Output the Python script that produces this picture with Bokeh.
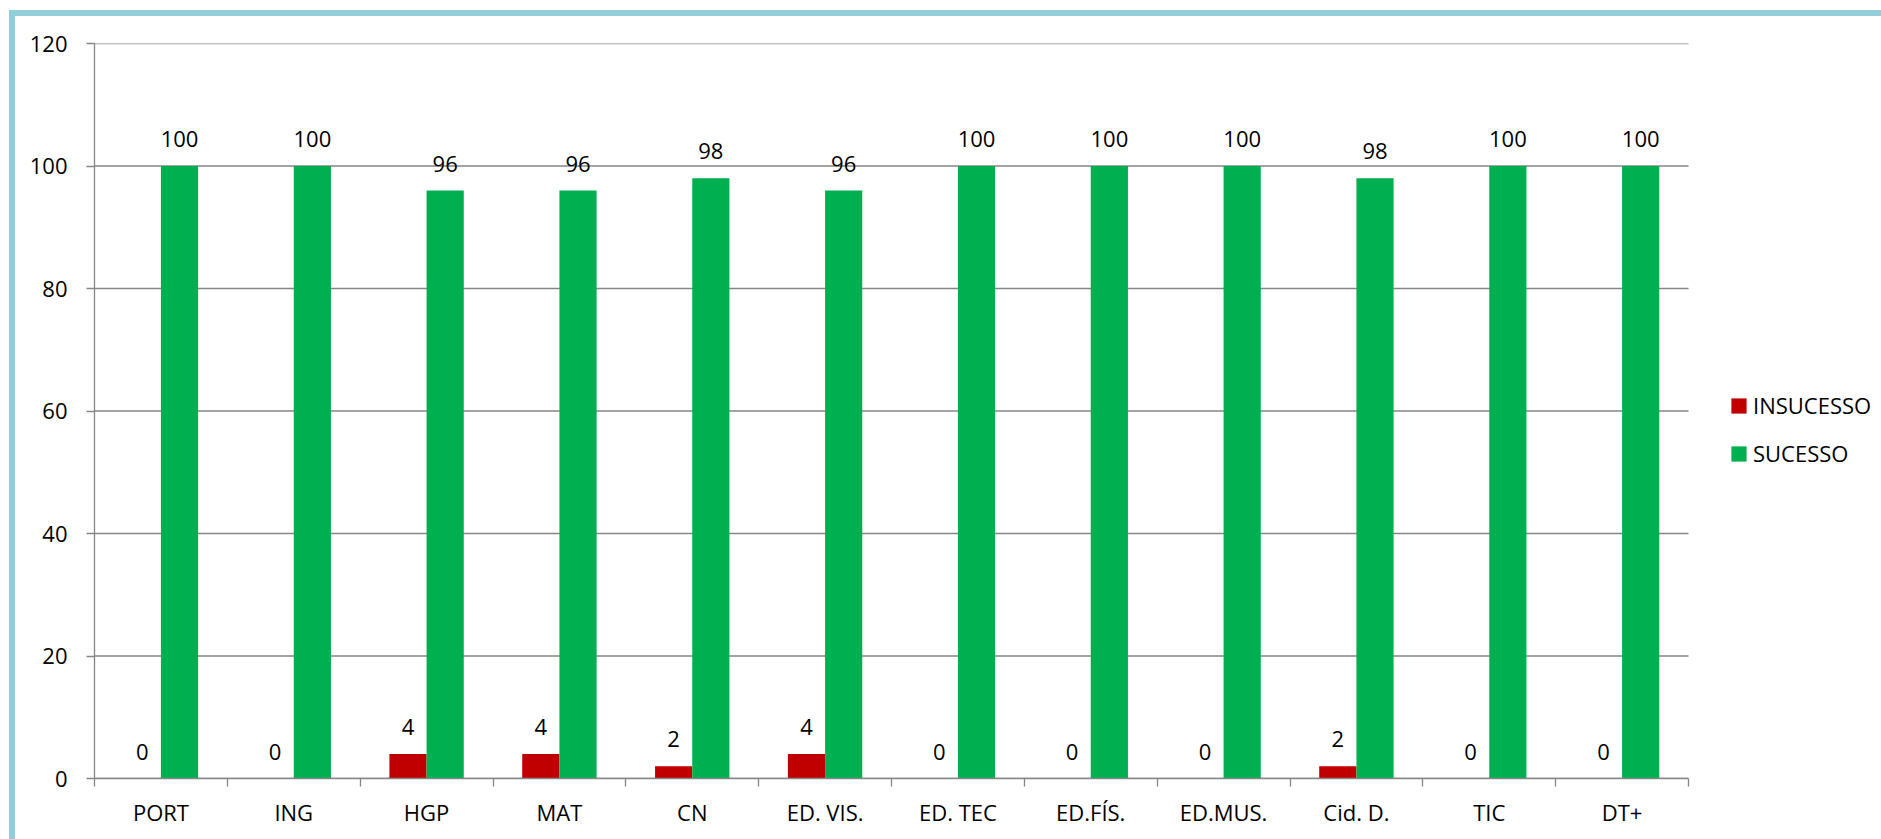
from bokeh.plotting import figure
from bokeh.models import (ColumnDataSource, Range1d, FixedTicker, Legend, LegendItem,
                          InlineStyleSheet)
from bokeh.transform import dodge
from bokeh.core.properties import value
from bokeh.embed import file_html
from bokeh.resources import INLINE

categories = ["PORT", "ING", "HGP", "MAT", "CN", "ED. VIS.", "ED. TEC", "ED.FÍS.",
              "ED.MUS.", "Cid. D.", "TIC", "DT+"]
insucesso = [0, 0, 4, 4, 2, 4, 0, 0, 0, 2, 0, 0]
sucesso = [100, 100, 96, 96, 98, 96, 100, 100, 100, 98, 100, 100]
y_ticks = [0, 20, 40, 60, 80, 100, 120]
series_names = ["INSUCESSO", "SUCESSO"]

RED = "#C00000"
GREEN = "#00B050"
GRID = "#868686"
BORDER = "#92CDDC"
FONT = "Open Sans"
FS = "22px"

W, H = 1881, 839
PLOT_L, PLOT_R, PLOT_T, PLOT_B = 94, 1688, 43, 778

n = len(categories)
pos = [i + 0.5 for i in range(n)]
src = ColumnDataSource(dict(
    x=pos, cat=categories, ins=insucesso, suc=sucesso,
    ins_txt=[str(v) for v in insucesso], suc_txt=[str(v) for v in sucesso],
))

# frame extends to the right edge so the legend can live inside it;
# the category area occupies PLOT_L..PLOT_R
x_end = n * (W - PLOT_L) / (PLOT_R - PLOT_L)
p = figure(width=W, height=H,
           x_range=Range1d(0, x_end), y_range=Range1d(0, 120),
           output_backend="svg", toolbar_location=None,
           min_border_left=PLOT_L, min_border_right=0,
           min_border_top=PLOT_T, min_border_bottom=H - PLOT_B)
p.outline_line_color = None
p.background_fill_color = "white"
p.border_fill_color = "white"

# horizontal gridlines limited to the category area
p.xgrid.visible = False
p.ygrid.visible = False
p.segment(x0=[0] * len(y_ticks), x1=[n] * len(y_ticks), y0=y_ticks, y1=y_ticks,
          line_color=GRID, line_width=1.3)

BW = 0.28
r_ins = p.vbar(x=dodge("x", -BW / 2), top="ins", bottom=0, width=BW,
               fill_color=RED, line_color=None, source=src)
r_suc = p.vbar(x=dodge("x", BW / 2), top="suc", bottom=0, width=BW,
               fill_color=GREEN, line_color=None, source=src)

for col, txt, off in (("ins", "ins_txt", -BW / 2), ("suc", "suc_txt", BW / 2)):
    p.text(x=dodge("x", off), y=col, text=txt, source=src,
           text_align="center", text_baseline="middle", y_offset=-27,
           text_font=value(FONT), text_font_size=FS, text_color="black")

# x axis
xa = p.xaxis[0]
xa.bounds = (0, n)
xa.ticker = FixedTicker(ticks=pos, minor_ticks=list(range(n + 1)))
xa.major_label_overrides = {pp: c for pp, c in zip(pos, categories)}
xa.major_tick_line_color = None
xa.major_tick_out = 0
xa.major_tick_in = 0
xa.minor_tick_out = 8
xa.minor_tick_in = 0
xa.minor_tick_line_color = GRID
xa.minor_tick_line_width = 1.3
xa.axis_line_color = GRID
xa.axis_line_width = 1.3
xa.major_label_standoff = 10
xa.major_label_text_font = FONT
xa.major_label_text_font_size = FS
xa.major_label_text_color = "black"

# y axis
ya = p.yaxis[0]
ya.ticker = FixedTicker(ticks=y_ticks)
ya.major_tick_out = 8
ya.major_tick_in = 0
ya.major_tick_line_color = GRID
ya.major_tick_line_width = 1.3
ya.minor_tick_line_color = None
ya.axis_line_color = GRID
ya.axis_line_width = 1.3
ya.major_label_standoff = 19
ya.major_label_text_font = FONT
ya.major_label_text_font_size = FS
ya.major_label_text_color = "black"

legend = Legend(items=[LegendItem(label=series_names[0], renderers=[r_ins]),
                       LegendItem(label=series_names[1], renderers=[r_suc])],
                location=(1731 - PLOT_L - 2, 310), glyph_width=19, glyph_height=19,
                label_standoff=5, spacing=18, padding=0, margin=0,
                border_line_color=None, background_fill_alpha=0,
                label_text_font=FONT, label_text_font_size=FS,
                label_text_color="black")
p.add_layout(legend)

# outer chart border (light blue frame, top and left edges visible)
p.stylesheets = [InlineStyleSheet(css=f"""
:host::after {{
  content: "";
  position: absolute;
  left: 9px; top: 10px; right: 0; bottom: 0;
  border-top: 6px solid {BORDER};
  border-left: 6px solid {BORDER};
  pointer-events: none;
  z-index: 100;
}}
""")]

open("out.html", "w").write(file_html(p, INLINE))
